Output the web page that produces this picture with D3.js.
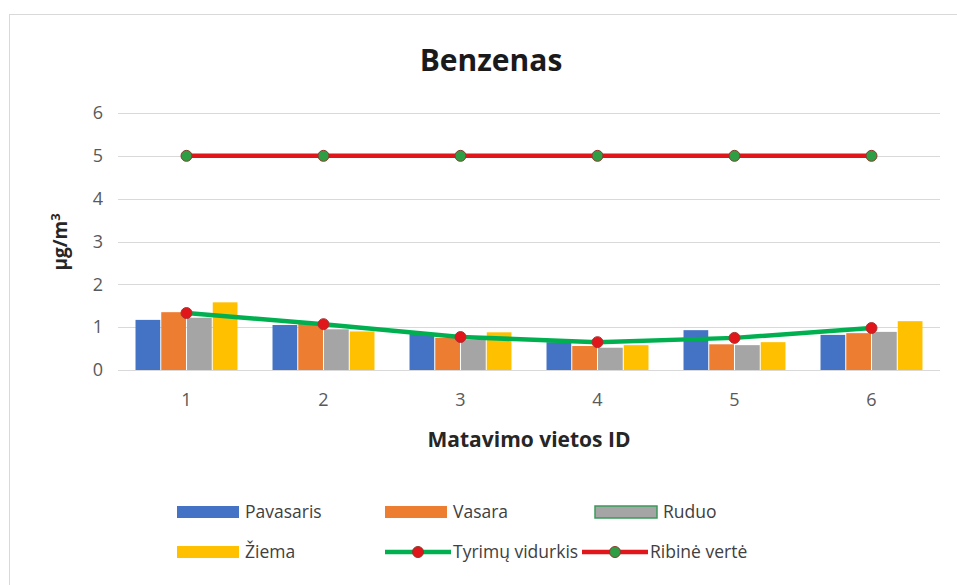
<!DOCTYPE html>
<html>
<head>
<meta charset="utf-8">
<script src="https://cdn.jsdelivr.net/npm/d3@7"></script>
<style>
  body { margin: 0; background: #fff; }
  svg { font-family: "Open Sans", sans-serif; }
</style>
</head>
<body>
<svg id="chart" width="957" height="585"></svg>
<script>
// Data
const sites = ["1", "2", "3", "4", "5", "6"];
const seasons = ["Pavasaris", "Vasara", "Ruduo", "Žiema"];
const pavasaris = [1.17, 1.05, 0.86, 0.65, 0.93, 0.82];
const vasara = [1.35, 1.12, 0.75, 0.56, 0.60, 0.86];
const ruduo = [1.22, 0.95, 0.70, 0.52, 0.58, 0.89];
const ziema = [1.58, 0.90, 0.88, 0.58, 0.65, 1.14];
const vidurkis = [1.33, 1.07, 0.77, 0.65, 0.75, 0.98];
const ribine = [5, 5, 5, 5, 5, 5];
const yTicks = [0, 1, 2, 3, 4, 5, 6];

const seasonValues = [pavasaris, vasara, ruduo, ziema];
const seasonColors = ["#4472c4", "#ed7d31", "#a5a5a5", "#ffc000"];

const svg = d3.select("#chart");

// Chart border
svg.append("rect")
  .attr("x", 9.5).attr("y", 14.5)
  .attr("width", 960).attr("height", 600)
  .attr("fill", "none")
  .attr("stroke", "#d9d9d9");

// Scales
const x = d3.scaleBand()
  .domain(sites)
  .range([118, 940]);

const xInner = d3.scaleBand()
  .domain(seasons)
  .range([0, x.bandwidth()])
  .paddingOuter(0.68)
  .paddingInner(0.04);

const y = d3.scaleLinear()
  .domain([0, 6])
  .range([370, 113]);

// Gridlines
svg.append("g")
  .selectAll("line")
  .data(yTicks).enter()
  .append("line")
  .attr("x1", 118).attr("x2", 940)
  .attr("y1", d => Math.round(y(d)) + 0.5)
  .attr("y2", d => Math.round(y(d)) + 0.5)
  .attr("stroke", "#d9d9d9")
  .attr("stroke-width", 1);

// Y axis labels
svg.append("g")
  .selectAll("text")
  .data(yTicks).enter()
  .append("text")
  .attr("x", 103)
  .attr("y", d => y(d))
  .attr("dy", "0.35em")
  .attr("text-anchor", "end")
  .attr("font-size", 18)
  .attr("fill", "#595959")
  .text(d => d);

// X axis labels
svg.append("g")
  .selectAll("text")
  .data(sites).enter()
  .append("text")
  .attr("x", d => x(d) + x.bandwidth() / 2)
  .attr("y", 400)
  .attr("dy", "0.35em")
  .attr("text-anchor", "middle")
  .attr("font-size", 18)
  .attr("fill", "#595959")
  .text(d => d);

// Bars
const groups = svg.append("g")
  .selectAll("g")
  .data(sites).enter()
  .append("g")
  .attr("transform", d => "translate(" + x(d) + ",0)");

groups.selectAll("rect")
  .data((d, i) => seasons.map((s, k) => ({ season: s, value: seasonValues[k][i], color: seasonColors[k] })))
  .enter()
  .append("rect")
  .attr("x", d => xInner(d.season))
  .attr("y", d => y(d.value))
  .attr("width", xInner.bandwidth())
  .attr("height", d => y(0) - y(d.value))
  .attr("fill", d => d.color);

// Lines
const line = d3.line()
  .x((d, i) => x(sites[i]) + x.bandwidth() / 2)
  .y(d => y(d));

function drawSeries(values, lineColor, dotColor, dotStroke) {
  svg.append("path")
    .datum(values)
    .attr("d", line)
    .attr("fill", "none")
    .attr("stroke", lineColor)
    .attr("stroke-width", 4.5)
    .attr("stroke-linejoin", "round");

  svg.append("g")
    .selectAll("circle")
    .data(values).enter()
    .append("circle")
    .attr("cx", (d, i) => x(sites[i]) + x.bandwidth() / 2)
    .attr("cy", d => y(d))
    .attr("r", 5.5)
    .attr("fill", dotColor)
    .attr("stroke", dotStroke)
    .attr("stroke-width", 1);
}

drawSeries(vidurkis, "#00b050", "#e0161b", "#a33");
drawSeries(ribine, "#e0161b", "#2e9e45", "#8a3b2a");

// Titles
svg.append("text")
  .attr("x", 491).attr("y", 60)
  .attr("dy", "0.35em")
  .attr("text-anchor", "middle")
  .attr("font-size", 30)
  .attr("font-weight", "bold")
  .attr("fill", "#1a1a1a")
  .text("Benzenas");

svg.append("text")
  .attr("x", 529).attr("y", 440)
  .attr("dy", "0.35em")
  .attr("text-anchor", "middle")
  .attr("font-size", 21)
  .attr("font-weight", "bold")
  .attr("fill", "#262626")
  .text("Matavimo vietos ID");

const yTitle = svg.append("text")
  .attr("transform", "translate(67,242) rotate(-90)")
  .attr("text-anchor", "middle")
  .attr("font-size", 19)
  .attr("font-weight", "bold")
  .attr("fill", "#262626");
yTitle.append("tspan").text("µg/m");
yTitle.append("tspan").attr("dy", -7).attr("font-size", 13).text("3");

// Legend
const legendItems = [
  { label: "Pavasaris", type: "bar", color: seasonColors[0], x: 177, y: 512 },
  { label: "Vasara", type: "bar", color: seasonColors[1], x: 385, y: 512 },
  { label: "Ruduo", type: "bar", color: seasonColors[2], x: 595, y: 512, stroke: "#3a9a5a" },
  { label: "Žiema", type: "bar", color: seasonColors[3], x: 177, y: 552 },
  { label: "Tyrimų vidurkis", type: "line", color: "#00b050", dot: "#e0161b", x: 385, y: 552 },
  { label: "Ribinė vertė", type: "line", color: "#e0161b", dot: "#2e9e45", x: 582, y: 552 }
];

const legend = svg.append("g")
  .selectAll("g")
  .data(legendItems).enter()
  .append("g")
  .attr("transform", d => "translate(" + d.x + "," + d.y + ")");

legend.filter(d => d.type === "bar")
  .append("rect")
  .attr("x", 0).attr("y", -6)
  .attr("width", 62).attr("height", 12)
  .attr("fill", d => d.color)
  .attr("stroke", d => d.stroke || "none")
  .attr("stroke-width", 1.5);

legend.filter(d => d.type === "line")
  .append("line")
  .attr("x1", 0).attr("x2", 66)
  .attr("stroke", d => d.color)
  .attr("stroke-width", 4.5);

legend.filter(d => d.type === "line")
  .append("circle")
  .attr("cx", 33).attr("r", 5.5)
  .attr("fill", d => d.dot)
  .attr("stroke", "#8a3b2a")
  .attr("stroke-width", 1);

legend.append("text")
  .attr("x", 68)
  .attr("dy", "0.35em")
  .attr("font-size", 17.5)
  .attr("fill", "#404040")
  .text(d => d.label);
</script>
</body>
</html>
